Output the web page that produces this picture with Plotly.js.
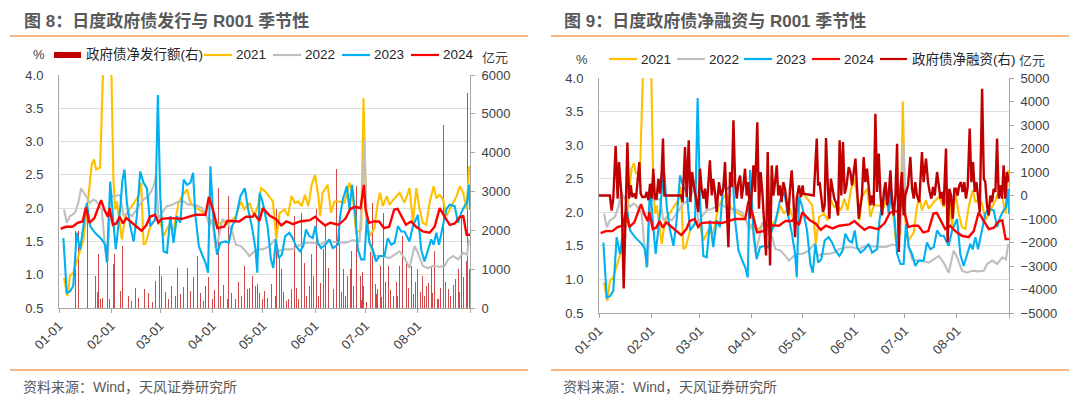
<!DOCTYPE html>
<html><head><meta charset="utf-8">
<script src="https://cdn.plot.ly/plotly-3.0.1.min.js"></script>
<style>html,body{margin:0;padding:0;background:#fff;}#chart{width:1080px;height:398px;}</style>
</head><body><div id="chart"></div>
<script>
// ---------- data ----------
const monthTickDays = [0,31,60,91,121,152,182,213,244];
const monthTickLabels = ['01-01','02-01','03-01','04-01','05-01','06-01','07-01','08-01',''];
const yearNames = ['2021','2022','2023','2024'];
const barName = '政府债净发行额(右)';
const netName = '政府债净融资(右)';
const chartTitles = ['图 8：日度政府债发行与 R001 季节性','图 9：日度政府债净融资与 R001 季节性'];
const sourceText = '资料来源：Wind，天风证券研究所';

// [day of year (0 = 01-01), R001 %]
const r001_2021 = [[3,0.95],[5,0.68],[6.5,0.98],[8.5,1.03],[11.5,1.28],[14.5,1.52],[17.5,2.18],[19.4,2.65],[20.8,2.73],[22,2.58],[24.4,2.61],[25.4,3.18],[27,4.2],[28.5,6.0],[30,5.0],[31,4.2],[32.3,2.43],[33.3,1.98],[34.3,2.1],[35.3,1.88],[37.3,1.53],[39.3,1.88],[43.3,2.03],[47.2,2.18],[48.8,2.38],[50.2,1.45],[51.6,1.48],[54.2,1.73],[57.1,1.83],[59.5,1.88],[62.1,1.58],[65,1.73],[68,1.68],[71,2.08],[73,2.18],[76,2.28],[78,2.08],[80,2.03],[83,1.98],[86,1.93],[89,1.83],[92,1.78],[94,1.73],[97,1.80],[101,1.78],[105,1.88],[108,2.1],[110,1.98],[113,2.08],[116,1.88],[118,2.03],[120,2.30],[122.5,2.25],[124,2.2],[127,2.1],[129,1.53],[131,1.93],[134,1.98],[136,1.88],[138,2.18],[140,2.08],[142,2.1],[144,2.03],[146,2.2],[148,2.03],[150,2.35],[152,2.5],[154,2.18],[155,1.88],[156.5,2.23],[159.5,2.35],[161.5,1.93],[163.5,2.1],[166.5,2.1],[169.5,2.08],[172.4,2.38],[174.4,2.18],[176.4,1.63],[179.4,1.68],[180.8,3.65],[182.3,1.88],[184.3,1.58],[187.3,1.70],[189.2,2.08],[190.6,2.23],[192.2,2.03],[194.6,2.18],[196.2,2.05],[199.2,2.15],[202.2,2.23],[205.1,2.08],[208.1,2.30],[210.1,1.78],[212.1,2.30],[214.1,1.98],[216,1.78],[218,1.75],[220,2.08],[222.4,2.33],[224,2.15],[226,2.2],[228,2.13],[230,1.88],[233,2.03],[236,2.18],[238,2.33],[240,2.23],[242,1.98],[243.5,2.63]];
const r001_2022 = [[3,1.98],[4.6,1.78],[6.5,1.88],[9.5,1.93],[11.5,2.08],[13.1,2.30],[15.5,2.2],[18.5,2.08],[20.4,2.13],[22.4,2.1],[25.4,1.98],[27.4,1.38],[29,1.2],[30.4,2.18],[33.3,2.18],[36.3,2.2],[38.3,1.88],[40.3,1.93],[43.3,1.88],[47.2,2.03],[50.2,2.13],[53.2,2.18],[56.2,2.33],[57.5,2.48],[59.1,1.83],[61.1,1.93],[64.1,2.03],[67.1,2.05],[71,2.1],[74,2.1],[77,2.05],[81,2.05],[85,2.0],[88,1.85],[89.3,1.73],[91,1.83],[93,1.4],[95,1.58],[97,1.83],[99,1.8],[101,1.73],[103,1.63],[105,1.45],[108,1.43],[111,1.35],[113,1.28],[116,1.35],[118,1.38],[121,1.38],[125,1.43],[128,1.53],[130,1.35],[133,1.38],[137,1.38],[140,1.4],[143,1.45],[147,1.48],[151,1.48],[155,1.45],[158.5,1.5],[162.5,1.49],[166.5,1.48],[170.5,1.48],[174.4,1.52],[178.4,1.5],[180.3,2.33],[181.3,3.03],[182.7,1.83],[184.3,1.5],[186.3,1.3],[189.2,1.28],[193.2,1.27],[196.2,1.25],[199.2,1.3],[202.2,1.35],[205.1,1.25],[208.1,1.1],[211.1,1.43],[213.1,1.33],[216,1.13],[219,1.1],[222,1.13],[226,1.12],[229,1.13],[231,1.23],[234,1.28],[237,1.23],[240,1.33],[242.2,1.3],[243.5,1.53]];
const r001_2023 = [[2.6,1.55],[4.6,0.73],[6.5,0.75],[8.5,0.83],[10.5,1.63],[12.5,1.38],[14.5,1.73],[16.5,2.08],[18.5,1.73],[21.4,1.63],[25.4,1.53],[27.4,1.45],[28.4,1.18],[29.4,1.83],[30.4,2.4],[32.3,1.78],[33.7,1.38],[36.3,1.98],[37.7,2.43],[38.9,2.58],[40.3,2.08],[42.3,1.73],[44.3,1.5],[46.2,1.88],[48.2,2.55],[50.2,2.38],[52.2,2.3],[54.2,1.73],[57.1,1.83],[58.7,3.7],[60.1,2.18],[62.1,1.35],[64.1,1.33],[66.1,1.88],[68,1.48],[70,1.88],[72,1.78],[74,2.43],[76,2.35],[78,2.38],[79.6,2.53],[81,1.88],[83,1.43],[85,1.3],[87,1.18],[88.5,1.03],[89.9,2.63],[91.9,1.73],[93.8,1.3],[95.8,1.48],[98.8,1.5],[100.8,1.48],[102.8,1.73],[104.8,1.83],[107.7,2.18],[110.3,2.3],[112.3,1.98],[114.7,1.7],[116.7,1.38],[117.7,1.03],[119.1,2.23],[121,2.08],[123.8,1.73],[125.8,1.23],[127.2,1.1],[128.8,1.53],[130.4,1.25],[132.3,1.3],[134.3,1.58],[136.7,1.63],[138.7,1.55],[140.7,1.43],[143.1,1.35],[145,1.43],[146.6,1.68],[148.6,1.58],[150.6,1.55],[152.2,1.73],[153.6,1.48],[155.6,1.4],[158.1,1.45],[160.5,1.53],[162.5,1.4],[165.5,1.45],[166.9,1.88],[168.5,2.13],[170.9,2.33],[172.4,1.98],[174,2.35],[176,1.88],[177.4,1.38],[179.4,1.23],[181.3,1.23],[182.7,1.83],[184.3,1.48],[186.3,1.38],[188.2,1.2],[190.2,1.28],[193.2,1.28],[195.2,1.55],[197.2,1.45],[199.2,1.48],[201.2,1.73],[203.2,1.65],[205.1,1.65],[208.1,1.5],[210.1,1.73],[213.1,1.9],[215,1.38],[217,1.2],[219,1.35],[221,1.53],[222.4,1.45],[224,1.63],[225.6,1.45],[228,1.78],[229.9,1.98],[231.9,2.05],[234.9,2.03],[236.9,1.78],[238.8,1.93],[240.8,2.03],[242.2,2.08],[243.4,2.35],[244,1.98]];
const r001_2024 = [[1,1.69],[4,1.72],[8,1.72],[11,1.78],[14,1.80],[16,2.01],[18,1.78],[21,1.85],[25,2.12],[27,1.97],[29,1.87],[30,2.0],[32,1.75],[34,1.77],[36,1.87],[38,1.77],[40,1.85],[45,1.75],[49,1.66],[52,1.75],[54,1.87],[57,1.90],[59,1.78],[61,1.84],[65,1.85],[73,1.84],[77,1.87],[81,1.90],[87,1.90],[89,2.17],[92,1.92],[94,1.70],[98,1.72],[100,1.81],[107,1.80],[111,1.87],[115,1.87],[116,1.91],[119,1.81],[121,2.0],[125,1.89],[129,1.83],[132,1.74],[135,1.80],[139,1.76],[143,1.80],[149,1.82],[152,1.87],[155,1.80],[158,1.74],[161,1.78],[166,1.75],[170,1.84],[173,1.99],[176,2.02],[179,2.0],[181,2.35],[182,1.98],[184,1.78],[187,1.80],[190,1.80],[193,1.70],[196,1.72],[199,1.98],[201,1.99],[204,1.84],[206,1.75],[209,1.80],[212,1.72],[216,1.65],[220,1.63],[223,1.72],[226,2.0],[229,1.87],[232,1.75],[235,1.77],[238,1.87],[240,1.88],[242,1.60],[244,1.60]];

// [day, 亿元]
const bondIssue2024 = [[9.5,1980],[11.5,1980],[16.9,2540],[21.4,830],[22.6,420],[23.6,1385],[24.8,230],[26,250],[28.8,1170],[30,230],[32.3,1130],[32.9,1385],[36.3,445],[37.9,1600],[41,310],[43,180],[45.5,520],[47,260],[50.8,490],[53,380],[55.5,150],[57,700],[59.7,1085],[61.1,830],[63,420],[65.1,230],[67,560],[69,310],[70.5,1030],[72,360],[74,530],[76,1040],[78,445],[80,790],[82,1340],[84,390],[85.5,180],[87,560],[88.9,790],[90.9,230],[92.5,470],[94.4,3095],[95.8,320],[97.5,600],[99.8,230],[100.8,2880],[102.5,380],[104.8,230],[106.7,660],[108.5,300],[110.3,1085],[111.7,490],[113,520],[114.7,830],[116.7,570],[117.7,615],[119,380],[120.6,230],[121.8,445],[124,260],[126,610],[128.4,316],[129.2,2540],[130.8,1300],[131.8,1000],[133.5,400],[135,180],[136.3,230],[137.9,490],[139.7,2370],[141,520],[142.3,230],[143.9,2450],[145.6,1170],[147,300],[148.6,570],[149.8,1385],[151,830],[152.6,2540],[153.8,316],[155,640],[156.9,1510],[158.1,2110],[160.1,1040],[162.9,490],[164.5,3590],[166.5,1940],[167.5,410],[168.8,1000],[170,300],[171.4,830],[172.8,1000],[173.6,1470],[174.8,570],[176.8,3140],[178.8,830],[179.5,200],[180,915],[181,560],[182.3,145],[184.7,1430],[185.9,2710],[187.9,615],[188.5,350],[189.3,490],[190.6,1085],[191.5,280],[192.6,2450],[193.8,660],[195.8,1085],[197,470],[198.6,316],[200.2,660],[201,300],[202.2,1085],[204.2,1855],[206.1,1170],[207.5,520],[209.1,1085],[210.5,350],[211.7,660],[213.1,1000],[214.5,420],[216,830],[217,300],[218,570],[219.5,650],[221,1085],[222,380],[223,1470],[225,230],[226.5,520],[228,4720],[229.6,660],[231,490],[232.5,300],[234,600],[235.5,745],[236.9,1000],[237.8,420],[238.8,2370],[240.2,790],[241.8,1215],[242.8,5530],[243.8,1000]];
const netFinancing2024 = [[0,0],[6.5,0],[7.5,-640],[8.5,-135],[9.9,2100],[11.1,-135],[11.9,1420],[12.7,710],[13.5,-135],[14.7,-3960],[15.9,-420],[16.9,2250],[17.9,-135],[18.9,430],[19.8,-65],[21,80],[22,-135],[23,710],[24,1420],[24.8,80],[25.8,-65],[27.4,-65],[28.4,150],[29.4,-200],[30.4,500],[31.4,-135],[32.3,1140],[33.3,-135],[34.3,-135],[35.3,710],[36.3,80],[37.3,1000],[38.1,2420],[38.9,0],[48.8,0],[49.8,-280],[51.2,2060],[52.2,-65],[53.4,2350],[54.4,-280],[55.4,1000],[56.4,430],[57.4,0],[59.1,-700],[60.1,1140],[61.1,290],[62.1,-135],[63.1,290],[64.1,-560],[65,570],[66,1500],[67.1,0],[68,710],[69,150],[70,-700],[71.4,570],[72.6,0],[74,290],[75,1420],[76,-420],[77,-2200],[78,1000],[79,360],[80,3200],[81,570],[82,-135],[83,570],[84,850],[84.9,-135],[85.9,430],[86.9,1140],[87.9,0],[88.9,570],[89.9,-990],[90.9,0],[91.9,1280],[92.9,150],[94.2,3120],[95.2,-560],[96.2,1000],[97.2,150],[98.2,-990],[99.4,-2550],[100.4,1850],[101.8,-2980],[102.8,1280],[103.8,0],[104.8,570],[105.8,1280],[106.7,0],[107.7,430],[108.7,-280],[109.7,570],[110.7,290],[111.7,-420],[112.7,-850],[113.7,290],[114.7,1070],[115.7,-135],[116.7,-1770],[117.7,-135],[119,430],[120.2,-65],[121.2,430],[121.8,80],[127.8,0],[129.6,2420],[130.4,430],[131.3,570],[132.3,-135],[133.3,-700],[134.3,-420],[135.1,2450],[136.1,570],[137.1,-990],[138,710],[139,290],[140,-135],[141,-280],[142.3,-850],[143.2,2350],[144.2,0],[145.2,2280],[146.2,80],[147.2,360],[148.6,1210],[149.6,1000],[150.6,430],[151.6,1000],[152.6,1570],[153.6,290],[154.6,-990],[155.6,-420],[156.5,0],[157.5,1640],[158.5,570],[159.5,1140],[160.5,150],[161.5,-420],[162.5,0],[163.5,-420],[164.5,3480],[165.5,150],[166.5,1780],[167.5,0],[168.5,-850],[169.5,150],[170.5,570],[171.5,-420],[172.4,0],[173.4,1070],[174.4,-280],[175.4,-850],[176.4,0],[177.4,2200],[178.4,-2400],[179.4,290],[180.3,1000],[181.3,-850],[182.3,0],[183.9,430],[185.3,1640],[186.3,290],[187.3,-135],[188.2,570],[189.2,0],[190.6,-280],[192.2,1850],[193.2,570],[194.6,1570],[195.8,570],[196.8,150],[197.8,-135],[198.8,360],[199.8,0],[201.2,1000],[202.2,430],[203.2,-135],[204.2,150],[205.1,-420],[206.5,2000],[207.5,-1980],[208.5,290],[209.5,0],[210.5,-990],[211.5,290],[212.5,290],[213.4,0],[214.4,430],[215.4,570],[216.4,150],[217.4,570],[218.4,-135],[219.4,360],[220.6,2850],[221.6,570],[222.6,1420],[223.6,150],[224.6,570],[225.6,-135],[226.6,-700],[228,4540],[229,710],[229.9,570],[230.9,-420],[231.9,-850],[232.9,0],[233.9,-280],[234.9,290],[235.9,150],[236.9,2420],[237.9,-135],[238.8,430],[239.8,-135],[240.8,1280],[241.8,-135],[242.8,1000],[243.8,570]];

// ---------- styles ----------
const yearColors = ['#FFC000','#BFBFBF','#00B0F0','#FF0000'];
const darkRed = '#C00000';
const FONT = '"Liberation Sans", Arial, "Noto Sans CJK SC", sans-serif';
const W = 1080, H = 398;
const px = x => x / W, py = y => 1 - y / H;
const xs = a => a.map(p => p[0]);
const ys = a => a.map(p => p[1]);
const yearData = [r001_2021, r001_2022, r001_2023, r001_2024];

const traces = [];
traces.push({type:'bar', name:barName, x:xs(bondIssue2024), y:ys(bondIssue2024), width:0.6,
  marker:{color:'rgba(192,0,0,0.72)', line:{width:0}}, xaxis:'x', yaxis:'y', showlegend:false});
yearData.forEach((d,i) => traces.push({type:'scatter', mode:'lines', name:yearNames[i], x:xs(d), y:ys(d),
  line:{color:yearColors[i], width: i===3 ? 2.4 : 2.1}, xaxis:'x', yaxis:'y3', showlegend:false}));
yearData.forEach((d,i) => traces.push({type:'scatter', mode:'lines', name:yearNames[i], x:xs(d), y:ys(d),
  line:{color:yearColors[i], width: i===3 ? 2.4 : 2.1}, xaxis:'x2', yaxis:'y2', showlegend:false}));
traces.push({type:'scatter', mode:'lines', name:netName, x:xs(netFinancing2024), y:ys(netFinancing2024),
  line:{color:darkRed, width:2.4}, xaxis:'x2', yaxis:'y4', showlegend:false});

const tickFont = {family:FONT, size:13, color:'#404040'};
const axisGray = '#A6A6A6';
const xCommon = {range:[0,244], tickmode:'array', tickvals:monthTickDays, ticktext:monthTickLabels,
  tickangle:-45, ticks:'outside', ticklen:4, tickcolor:axisGray, showline:true, linecolor:axisGray,
  linewidth:1, showgrid:false, zeroline:false, tickfont:tickFont, fixedrange:true};
const leftDomX = [px(59), px(470)], rightDomX = [px(599), px(1009)];
const leftDomY = [py(308), py(75)], rightDomY = [py(313), py(78)];

const layout = {
  width:W, height:H, margin:{l:0,r:0,t:0,b:0}, paper_bgcolor:'#fff', plot_bgcolor:'rgba(0,0,0,0)',
  showlegend:false, font:{family:FONT}, bargap:0,
  xaxis:Object.assign({}, xCommon, {domain:leftDomX, anchor:'y'}),
  yaxis:{domain:leftDomY, anchor:'x', side:'right', range:[0,6000], dtick:1000, tick0:0,
    showgrid:false, zeroline:false, showline:true, linecolor:axisGray, ticks:'outside', ticklen:4,
    tickcolor:axisGray, tickfont:tickFont, ticklabelstandoff:4, fixedrange:true},
  yaxis3:{overlaying:'y', anchor:'x', side:'left', range:[0.5,4.0], dtick:0.5, tick0:0.5, tickformat:'.1f',
    showgrid:true, gridcolor:'#DEDEDE', gridwidth:1, zeroline:false, showline:true, linecolor:axisGray,
    ticks:'', tickfont:tickFont, ticklabelstandoff:12, fixedrange:true},
  xaxis2:Object.assign({}, xCommon, {domain:rightDomX, anchor:'y2'}),
  yaxis2:{domain:rightDomY, anchor:'x2', side:'left', range:[0.5,4.0], dtick:0.5, tick0:0.5, tickformat:'.1f',
    showgrid:true, gridcolor:'#DEDEDE', gridwidth:1, zeroline:false, showline:true, linecolor:axisGray,
    ticks:'', tickfont:tickFont, ticklabelstandoff:12, fixedrange:true},
  yaxis4:{overlaying:'y2', anchor:'x2', side:'right', range:[-5000,5000], dtick:1000, tick0:0,
    showgrid:false, zeroline:false, showline:true, linecolor:axisGray, ticks:'outside', ticklen:4,
    tickcolor:axisGray, tickfont:tickFont, ticklabelstandoff:4, fixedrange:true},
  shapes:[], annotations:[]
};

const orange = '#F5A05A';
function hline(x0,x1,y,color,width){ layout.shapes.push({type:'line', xref:'paper', yref:'paper',
  x0:px(x0), x1:px(x1), y0:py(y), y1:py(y), line:{color:color, width:width}}); }
function text(t,x,y,opts){ layout.annotations.push(Object.assign({text:t, xref:'paper', yref:'paper',
  x:px(x), y:py(y), xanchor:'left', yanchor:'middle', showarrow:false, borderpad:0,
  font:{family:FONT, size:13.5, color:'#262626'}}, opts||{})); }

// titles, rules, sources
text('<b>'+chartTitles[0]+'</b>', 23, 21, {font:{family:FONT, size:17, color:'#595959'}});
text('<b>'+chartTitles[1]+'</b>', 563, 21, {font:{family:FONT, size:17, color:'#595959'}});
hline(10,528,36,orange,1.5); hline(551,1069,36,orange,1.5);
hline(10,528,370,orange,1.5); hline(551,1069,370,orange,1.5);
text(sourceText, 22, 387, {font:{family:FONT, size:14, color:'#595959'}});
text(sourceText, 562, 387, {font:{family:FONT, size:14, color:'#595959'}});

// axis unit labels
text('%', 39, 55, {xanchor:'center', font:{family:FONT, size:13, color:'#404040'}});
text('亿元', 481, 58, {font:{family:FONT, size:13, color:'#404040'}});
text('%', 582, 59, {xanchor:'center', font:{family:FONT, size:13, color:'#404040'}});
text('亿元', 1018, 61, {font:{family:FONT, size:13, color:'#404040'}});

// legend (left chart)
layout.shapes.push({type:'rect', xref:'paper', yref:'paper', x0:px(54), x1:px(81), y0:py(52), y1:py(58),
  fillcolor:darkRed, line:{width:0}});
text(barName, 85, 55);
const leftLegX = [204, 273, 342, 411];
leftLegX.forEach((x,i)=>{ hline(x, x+28, 55, yearColors[i], 2.2); text(yearNames[i], x+31, 55); });
// legend (right chart)
const rightLegX = [609, 677, 744, 812];
rightLegX.forEach((x,i)=>{ hline(x, x+28, 59, yearColors[i], 2.2); text(yearNames[i], x+31, 59); });
hline(880, 907, 59, darkRed, 2.2); text(netName, 911, 59);

Plotly.newPlot('chart', traces, layout, {staticPlot:true, displayModeBar:false});
</script>
</body></html>
